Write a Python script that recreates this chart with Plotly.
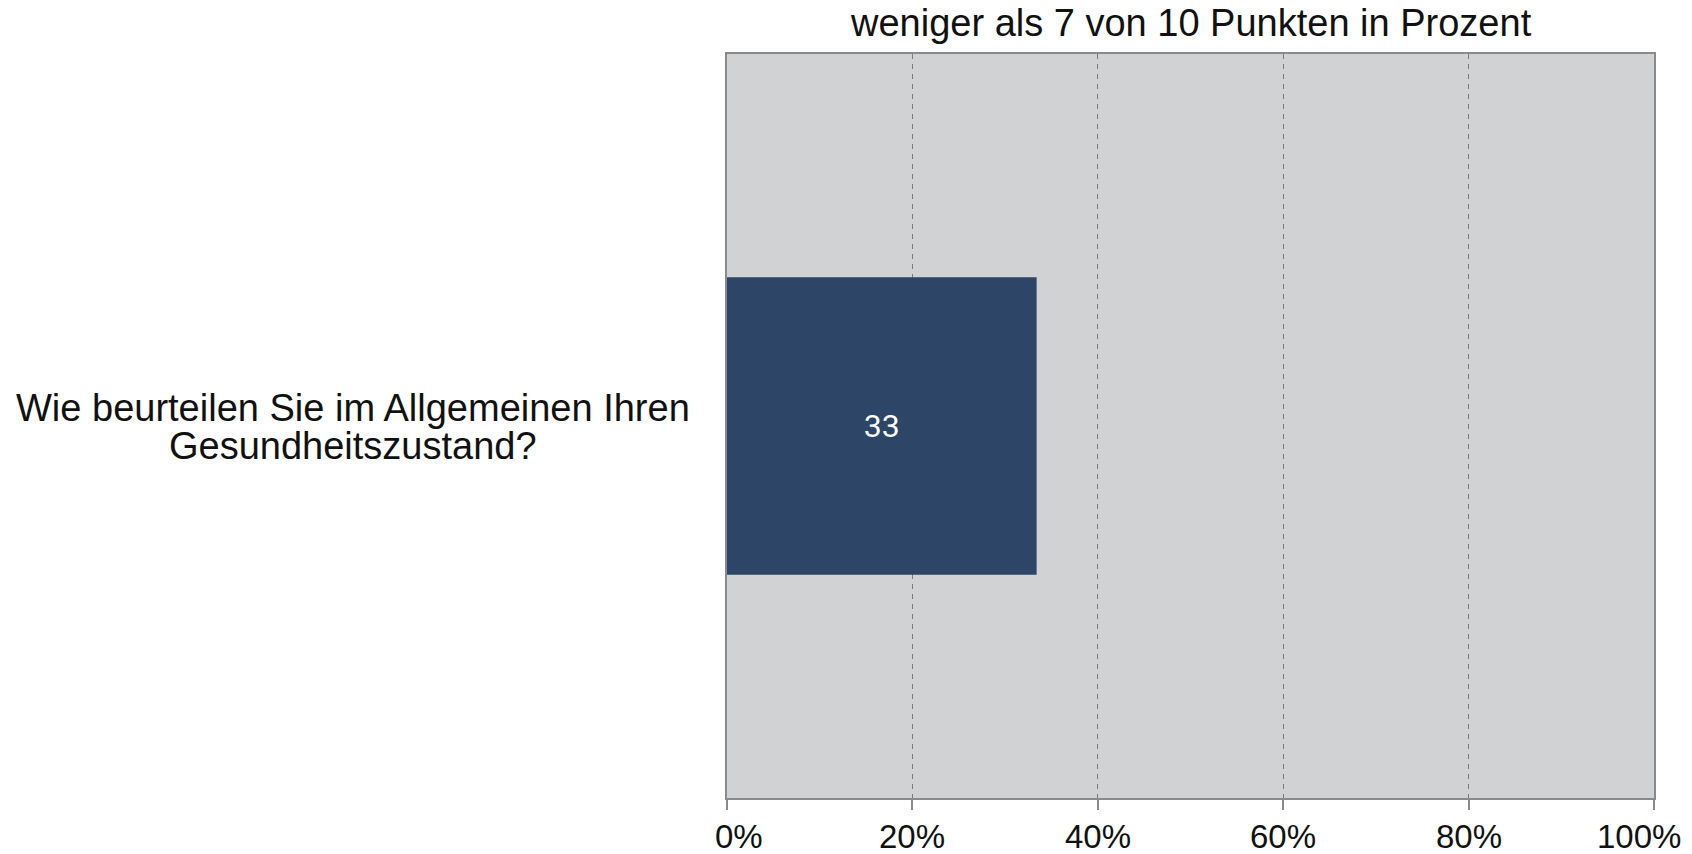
import plotly.graph_objects as go

categories = ["Wie beurteilen Sie im Allgemeinen Ihren Gesundheitszustand?"]
values = [33.4]
bar_labels = ["33"]
x_tickvals = [0, 20, 40, 60, 80, 100]
x_ticktext = ["0%", "20%", "40%", "60%", "80%", "100%"]
title_text = "weniger als 7 von 10 Punkten in Prozent"
ylabel_lines = ["Wie beurteilen Sie im Allgemeinen Ihren", "Gesundheitszustand?"]

FONT = "Liberation Sans, Arial, sans-serif"
W, H = 1692, 854
L, R, T, B = 727, 38, 54, 56
PW, PH = W - L - R, H - T - B


def px_x(x):
    return (x - L) / PW


def px_y(y):
    return 1 - (y - T) / PH


fig = go.Figure()
fig.add_trace(go.Bar(
    y=categories, x=values, orientation="h",
    marker=dict(color="#2D4566", line=dict(width=0)),
    text=bar_labels, textposition="inside", insidetextanchor="middle",
    textfont=dict(family="Roboto, sans-serif", size=32, color="white"),
    hoverinfo="skip",
))

annotations = [
    dict(text=title_text, xref="paper", yref="paper",
         x=0.5, y=1, yanchor="bottom", yshift=8,
         xanchor="center", showarrow=False,
         font=dict(family=FONT, size=38, color="#111111")),
]
for txt, yc in zip(ylabel_lines, [405, 443]):
    annotations.append(dict(
        text=txt, xref="paper", yref="paper",
        x=px_x(353), y=px_y(yc + 3), xanchor="center", yanchor="middle",
        showarrow=False, font=dict(family=FONT, size=38, color="#111111")))

# x tick labels, placed on the axis scale; end labels nudged inward like the original
n = len(x_tickvals)
for i, (v, t) in enumerate(zip(x_tickvals, x_ticktext)):
    shift = 12 if i == 0 else (-15 if i == n - 1 else 0)
    annotations.append(dict(
        text=t, xref="x", yref="paper", x=v, y=px_y(836),
        xanchor="center", yanchor="middle", xshift=shift, showarrow=False,
        font=dict(family=FONT, size=33, color="#111111")))

fig.update_layout(
    width=W, height=H,
    margin=dict(l=L, r=R, t=T, b=B, autoexpand=False),
    paper_bgcolor="white", plot_bgcolor="#D1D2D4",
    bargap=0.6, showlegend=False,
    font=dict(family=FONT, color="#111111"),
    xaxis=dict(
        range=[0, 100], tickvals=x_tickvals, showticklabels=False,
        showgrid=True, gridcolor="#7A7A7A", gridwidth=1, griddash="5px,5px",
        showline=True, linecolor="#8A8A8A", linewidth=2, mirror=True,
        ticks="outside", ticklen=10, tickcolor="#8A8A8A", tickwidth=2,
        zeroline=False, fixedrange=True,
    ),
    yaxis=dict(
        showticklabels=False, showgrid=False,
        showline=True, linecolor="#8A8A8A", linewidth=2, mirror=True,
        zeroline=False, fixedrange=True,
    ),
    annotations=annotations,
)

fig.write_html(
    "out.html",
    config={"displayModeBar": False},
    post_script="document.body.style.margin='0';document.body.style.overflow='hidden';",
)
